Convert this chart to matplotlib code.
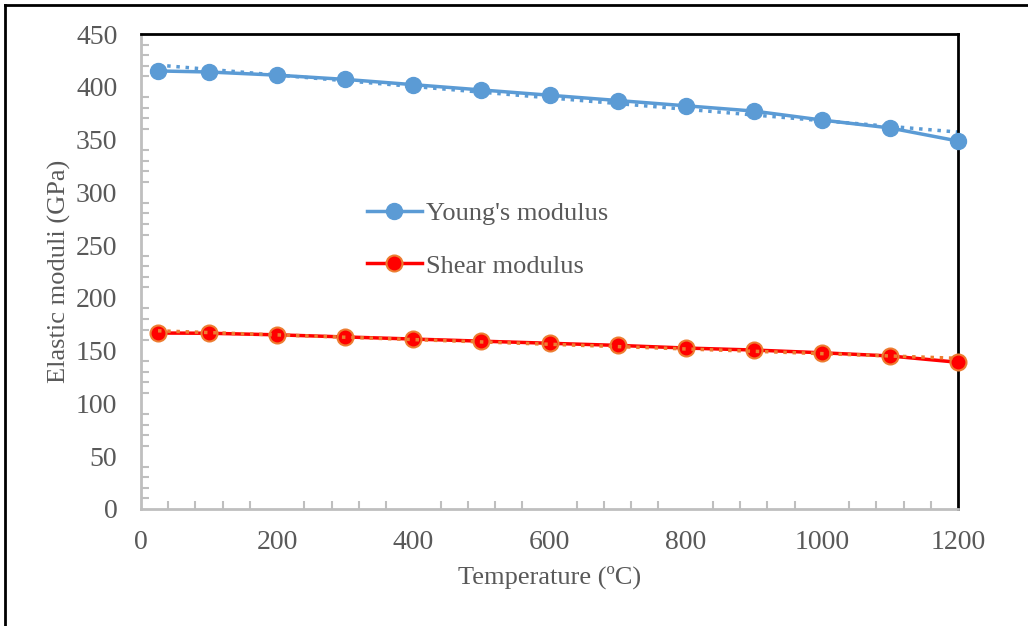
import matplotlib.pyplot as plt
import numpy as np
from matplotlib.ticker import MultipleLocator

plt.rcParams['font.family'] = ['Liberation Serif', 'DejaVu Serif']

temp = [25, 100, 200, 300, 400, 500, 600, 700, 800, 900, 1000, 1100, 1200]
young = [415, 414, 411, 407, 402, 397, 392, 387, 382, 377, 368.5, 361, 348.6]
shear = [166.7, 166.5, 165, 163, 161, 159, 157, 155, 152.5, 150.6, 148, 145, 139]

blue = '#5B9BD5'
red = '#FF0000'
orange = '#ED7D31'
grey = '#595959'

fig = plt.figure(figsize=(10.28, 6.26), dpi=100)
ax = fig.add_axes([141/1028, 1-509/626, 817/1028, 475/626])

# outer frame (only left and top visible in the original)
fig.add_artist(plt.Line2D([5/1028, 5/1028], [0, 1-5/626], color='black', lw=2, transform=fig.transFigure))
fig.add_artist(plt.Line2D([5/1028, 1], [1-5/626, 1-5/626], color='black', lw=2, transform=fig.transFigure))

# linear trendlines
t = np.array(temp)
py = np.polyfit(t, young, 1)
ps = np.polyfit(t, shear, 1)
ax.plot(t, np.polyval(py, t), ':', color=blue, lw=2.5, zorder=2)
ax.plot(t, np.polyval(ps, t), ':', color=orange, lw=2.5, zorder=4)

ax.plot(temp, young, '-o', color=blue, lw=2.5, ms=11.5, label="Young's modulus", zorder=3, clip_on=False)
ax.plot(temp, shear, '-o', color=red, lw=2.5, ms=11.5, mfc=red, mec=orange, mew=1.5,
        label='Shear modulus', zorder=3, clip_on=False)

ax.set_xlim(0, 1200)
ax.set_ylim(0, 450)
ax.xaxis.set_major_locator(MultipleLocator(200))
ax.xaxis.set_minor_locator(MultipleLocator(40))
ax.yaxis.set_major_locator(MultipleLocator(50))
ax.yaxis.set_minor_locator(MultipleLocator(10))

for s in ['left', 'bottom']:
    ax.spines[s].set_color('#BFBFBF')
    ax.spines[s].set_linewidth(2)
for s in ['top', 'right']:
    ax.spines[s].set_color('black')
    ax.spines[s].set_linewidth(2)

ax.tick_params(which='both', direction='in', color='#BFBFBF', width=1.5, labelsize=20, labelcolor=grey)
ax.tick_params(which='major', length=0)
ax.tick_params(which='minor', length=6)
ax.tick_params(axis='x', pad=15)
ax.tick_params(axis='y', pad=17)

ax.set_xlabel('Temperature (ºC)', fontsize=19, color=grey, labelpad=8)
ax.set_ylabel('Elastic moduli (GPa)', fontsize=19, color=grey)
ax.yaxis.set_label_coords((71-141)/817, 0.5)

leg = ax.legend(loc='upper left', bbox_to_anchor=((343-141)/817, 1-(178-34)/475), frameon=False,
                fontsize=19, labelspacing=1.1, handlelength=2.1, handletextpad=0.15)
for txt in leg.get_texts():
    txt.set_color(grey)

fig.savefig('out.png', dpi=100)
